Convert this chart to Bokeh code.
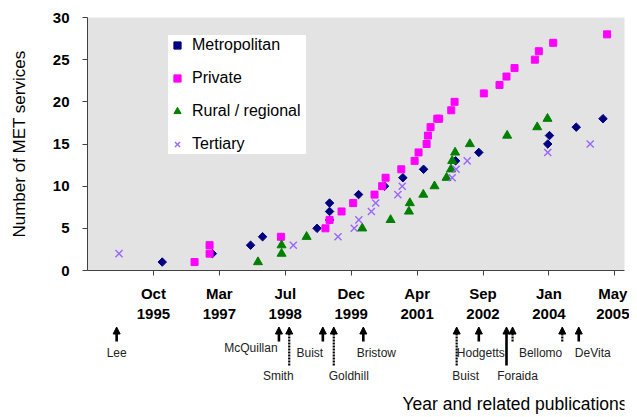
import numpy as np
import pandas as pd
from bokeh.plotting import figure
from bokeh.models import (Range1d, FixedTicker, ColumnDataSource, Arrow, NormalHead,
                          Label, Legend, LegendItem)
from bokeh.layouts import column
from bokeh.embed import file_html
from bokeh.resources import INLINE
from bokeh.core.properties import value

# ---------------- data ----------------
metro_dates = ["1996-01-01", "1997-01-15", "1997-11-01", "1998-01-31", "1999-03-20",
               "1999-06-23", "1999-06-23", "1999-06-23", "2000-01-29", "2000-08-13",
               "2000-12-30", "2001-06-05", "2002-02-03", "2002-07-29", "2004-01-03",
               "2004-01-16", "2004-08-06", "2005-02-25"]
metro_counts = [1, 2, 3, 4, 5, 6, 7, 8, 9, 10, 11, 12, 13, 14, 15, 16, 17, 18]

private_dates = ["1996-09-02", "1996-12-25", "1996-12-25", "1998-06-19", "1999-05-23",
                 "1999-06-23", "1999-09-22", "1999-12-19", "2000-05-29", "2000-07-26",
                 "2000-08-21", "2000-12-18", "2001-03-29", "2001-04-28", "2001-06-28",
                 "2001-07-08", "2001-07-28", "2001-09-17", "2001-10-01", "2002-01-01",
                 "2002-01-26", "2002-09-05", "2003-01-02", "2003-02-24", "2003-04-26",
                 "2003-09-27", "2003-10-27", "2004-02-13", "2005-03-28"]
private_counts = [1, 2, 3, 4, 5, 6, 7, 8, 9, 10, 11, 12, 13, 14, 15, 16, 17, 18, 18, 19,
                  20, 21, 22, 23, 24, 25, 26, 27, 28]

rural_dates = ["1997-12-27", "1998-06-24", "1998-06-24", "1998-12-31", "2000-02-26",
               "2000-09-28", "2001-02-14", "2001-02-21", "2001-06-03", "2001-08-27",
               "2001-11-26", "2001-12-30", "2002-01-08", "2002-01-30", "2002-05-22",
               "2003-03-01", "2003-10-15", "2004-01-01"]
rural_counts = [1, 2, 3, 4, 5, 6, 7, 8, 9, 10, 11, 12, 13, 14, 15, 16, 17, 18]

tertiary_dates = ["1995-02-07", "1998-09-21", "1999-08-26", "1999-12-27", "2000-01-31",
                  "2000-05-05", "2000-06-07", "2000-11-22", "2000-12-25", "2002-01-08",
                  "2002-02-07", "2002-05-02", "2004-01-03", "2004-11-20"]
tertiary_counts = [2, 3, 4, 5, 6, 7, 8, 9, 10, 11, 12, 13, 14, 15]

tick_labels = ["Oct\n1995", "Mar\n1997", "Jul\n1998", "Dec\n1999", "Apr\n2001",
               "Sep\n2002", "Jan\n2004", "May\n2005"]
y_ticks = [0, 5, 10, 15, 20, 25, 30]

pub_names = ["Lee", "McQuillan", "Smith", "Buist", "Goldhill", "Bristow", "Buist",
             "Hodgetts", "Foraida", "Bellomo", "", "DeVita"]
pub_dates = ["1995-01-20", "1998-06-04", "1998-08-21", "1999-05-03", "1999-07-25",
             "2000-03-05", "2002-02-11", "2002-07-29", "2003-02-24", "2003-04-11",
             "2004-04-22", "2004-08-25"]
pub_style = ["solid", "solid", "dotted", "solid", "dotted", "solid", "dotted",
             "solid", "solid", "dotted", "dotted", "solid"]
pub_length = ["short", "short", "long", "short", "long", "short", "long",
              "short", "long", "short", "short", "short"]

# label layout (pixel offsets / rows) -- styling only
pub_label_dx = [0, -28, -11, -13, 15, 13, 9, 2, 11, 28, 0, 14]
pub_label_row = ["mid", "high", "low", "mid", "low", "mid", "low", "mid", "low", "mid",
                 "mid", "mid"]

# ---------------- axis geometry ----------------
axis_start = pd.Timestamp("1994-06-13")
tick_step = pd.Timedelta(days=500)
ticks = [axis_start + tick_step * (i + 1) for i in range(len(tick_labels))]
tick_ms = [float(t.value // 10**6) for t in ticks]
x_end = axis_start + pd.Timedelta(days=4073)

FONT = "Liberation Sans"

p1 = figure(frame_width=537, frame_height=253,
            min_border_left=87, min_border_right=5, min_border_top=17, min_border_bottom=56,
            x_axis_type="datetime",
            x_range=Range1d(axis_start.to_pydatetime(), x_end.to_pydatetime()),
            y_range=Range1d(0, 30),
            output_backend="svg", toolbar_location=None,
            background_fill_color="#e3e3e3", border_fill_color="white",
            outline_line_color=None)
p1.grid.visible = False

xa = p1.xaxis[0]
xa.ticker = FixedTicker(ticks=tick_ms)
xa.major_label_overrides = {ms: lab for ms, lab in zip(tick_ms, tick_labels)}
xa.minor_tick_line_color = None
xa.major_tick_in = 0
xa.major_tick_out = 5
xa.major_label_standoff = 9
xa.major_label_text_font = FONT
xa.major_label_text_font_style = "bold"
xa.major_label_text_font_size = "15px"
xa.major_label_text_color = "black"
xa.axis_line_color = "#404040"
xa.major_tick_line_color = "#404040"

ya = p1.yaxis[0]
ya.ticker = FixedTicker(ticks=y_ticks)
ya.minor_tick_line_color = None
ya.major_tick_in = 0
ya.major_tick_out = 5
ya.major_label_standoff = 13
ya.major_label_text_font = FONT
ya.major_label_text_font_style = "bold"
ya.major_label_text_font_size = "15px"
ya.major_label_text_color = "black"
ya.axis_line_color = "#404040"
ya.major_tick_line_color = "#404040"
ya.axis_label = "Number of MET services"
ya.axis_label_text_font = FONT
ya.axis_label_text_font_style = "normal"
ya.axis_label_text_font_size = "17px"
ya.axis_label_text_color = "black"
ya.axis_label_standoff = 21


def src(dates, counts):
    return ColumnDataSource(dict(date=pd.to_datetime(dates), n=counts))


r_metro = p1.scatter("date", "n", source=src(metro_dates, metro_counts), marker="square",
                     angle=np.pi / 4, size=6, fill_color="#000080", line_color="#000080")
r_private = p1.scatter("date", "n", source=src(private_dates, private_counts), marker="square",
                       size=7, fill_color="#ff00ff", line_color="#ff00ff")
r_rural = p1.scatter("date", "n", source=src(rural_dates, rural_counts), marker="triangle",
                     size=9, fill_color="#008000", line_color="#008000")
r_tert = p1.scatter("date", "n", source=src(tertiary_dates, tertiary_counts), marker="x",
                    size=10, line_color="#9966ff", line_width=1.4)

legend = Legend(items=[LegendItem(label="Metropolitan", renderers=[r_metro]),
                       LegendItem(label="Private", renderers=[r_private]),
                       LegendItem(label="Rural / regional", renderers=[r_rural]),
                       LegendItem(label="Tertiary", renderers=[r_tert])],
                location=(81, 116), padding=4, spacing=13,
                label_height=20, glyph_height=20, glyph_width=18, label_standoff=6,
                label_width=114, border_line_color=None, background_fill_color="white",
                background_fill_alpha=1.0, label_text_font=FONT,
                label_text_font_size="16px", label_text_color="black", margin=0)
p1.add_layout(legend)

# ---------------- publications strip ----------------
strip_h = 89
p2 = figure(x_range=p1.x_range, y_range=Range1d(strip_h, 0),
            frame_width=537, frame_height=strip_h,
            min_border_left=87, min_border_right=5, min_border_top=0, min_border_bottom=0,
            x_axis_location=None, y_axis_location=None, outline_line_color=None,
            output_backend="svg", toolbar_location=None)
p2.grid.visible = False

arrow_top = 0.5
arrow_bottom = {"short": 15, "long": 39}
row_y = {"high": 21, "mid": 26, "low": 49}

pub_dt = pd.to_datetime(pub_dates)
for style, dash, lw in (("solid", "solid", 2.6), ("dotted", "2 1", 2.2)):
    idx = [i for i, s in enumerate(pub_style) if s == style]
    s = ColumnDataSource(dict(x=pub_dt[idx],
                              y0=[arrow_bottom[pub_length[i]] for i in idx],
                              y1=[arrow_top] * len(idx)))
    p2.add_layout(Arrow(end=NormalHead(size=7, fill_color="black", line_color="black",
                                       line_width=1),
                        x_start="x", y_start="y0", x_end="x", y_end="y1", source=s,
                        line_color="black", line_width=lw, line_dash=dash))

lab_src = ColumnDataSource(dict(x=pub_dt, y=[row_y[r] for r in pub_label_row],
                                name=pub_names, dx=pub_label_dx))
p2.text(x="x", y="y", text="name", source=lab_src, x_offset="dx",
        text_align="center", text_baseline="middle", text_font=value(FONT),
        text_font_size="12px", text_color="#222222")

p2.add_layout(Label(x=float(x_end.value // 10**6), y=strip_h - 2,
                    text="Year and related publications",
                    text_align="right", text_baseline="bottom", x_offset=3,
                    text_font=FONT, text_font_size="17.5px", text_color="black"))

layout = column(p1, p2, spacing=0)
open("out.html", "w").write(file_html(layout, INLINE))
